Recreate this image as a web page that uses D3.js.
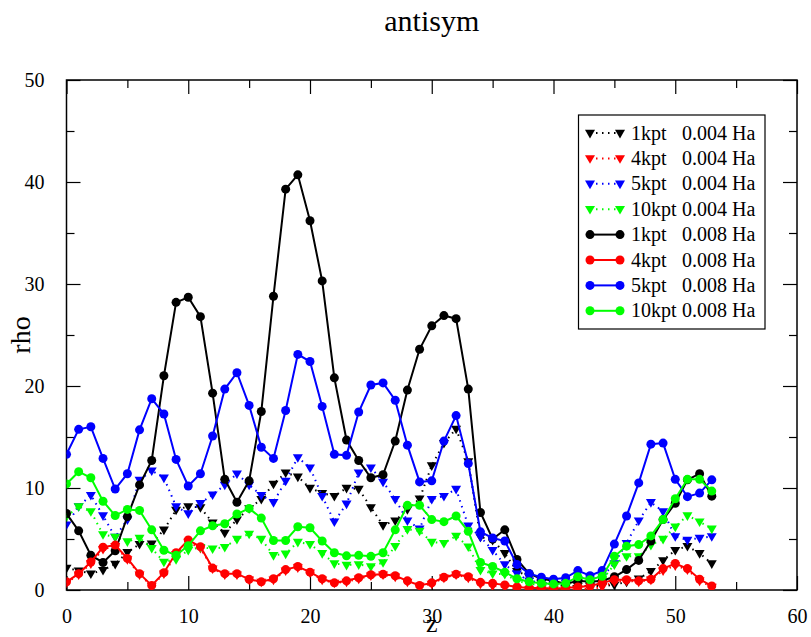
<!DOCTYPE html>
<html>
<head>
<meta charset="utf-8">
<script src="https://cdn.jsdelivr.net/npm/d3@7"></script>
<style>
  html, body { margin: 0; padding: 0; background: #fff; }
  svg { display: block; font-family: "Liberation Serif", "Times New Roman", serif; }
</style>
</head>
<body>
<svg id="chart" width="811" height="637"></svg>
<script>
// ---- data ----
const zValues = [0,1,2,3,4,5,6,7,8,9,10,11,12,13,14,15,16,17,18,19,20,21,22,23,24,25,26,27,28,29,30,31,32,33,34,35,36,37,38,39,40,41,42,43,44,45,46,47,48,49,50,51,52,53];

const rho1k_004 = [2.15,1.9,1.6,1.95,2.55,3.7,4.5,4.55,5.9,7.85,8.2,8.1,6.6,5.6,6.9,8.0,8.9,10.4,11.5,11.1,10.0,9.5,9.2,10.0,9.9,8.1,6.35,6.8,7.9,8.95,12.2,14.4,15.8,12.6,5.2,4.9,3.6,1.85,1.3,0.7,0.5,0.4,0.4,0.4,0.4,0.5,0.8,1.1,1.85,2.9,3.9,4.3,3.6,2.6];
const rho4k_004 = [0.7,1.5,2.6,4.0,4.3,3.0,1.5,0.4,1.6,3.5,4.7,4.1,2.1,1.5,1.5,1.0,0.8,1.0,1.9,2.2,1.7,1.0,0.7,0.8,1.1,1.4,1.5,1.3,0.8,0.4,0.6,1.2,1.5,1.2,0.6,0.4,0.3,0.1,0.05,0.05,0.05,0.05,0.1,0.1,0.3,0.8,0.9,0.8,1.0,1.9,2.4,2.0,0.9,0.3];
const rho5k_004 = [6.4,8.2,9.3,7.3,5.2,6.9,10.8,11.7,11.0,8.2,7.5,8.5,9.35,10.3,11.4,10.3,9.3,8.6,10.7,13.0,12.0,9.2,6.7,8.45,11.5,12.0,10.6,8.9,6.8,6.0,8.9,9.2,9.9,6.3,5.2,3.9,2.5,1.6,0.9,0.7,0.6,0.7,1.0,0.9,1.3,2.6,4.6,6.8,8.6,7.7,5.25,4.9,5.1,5.25];
const rho10k_004 = [7.2,8.2,7.7,5.45,5.2,4.75,5.1,4.1,2.75,3.0,3.9,4.2,4.05,4.2,5.0,5.5,5.0,3.4,3.55,4.7,4.5,3.6,2.6,2.45,2.5,2.3,2.7,4.3,5.95,5.8,4.7,4.6,5.3,4.25,1.95,1.6,1.55,0.9,0.6,0.5,0.4,0.45,0.8,0.6,1.0,2.5,3.3,3.3,4.4,5.0,6.2,7.3,6.7,6.0];
const rho1k_008 = [7.5,5.8,3.4,2.7,3.85,7.2,10.3,12.7,21.0,28.2,28.7,26.8,19.3,10.85,8.6,10.7,17.5,28.8,39.3,40.7,36.2,30.3,20.8,14.7,12.7,11.0,11.3,14.6,19.6,23.6,25.9,26.9,26.6,19.7,7.6,5.0,5.9,3.0,1.6,1.1,0.9,0.6,0.9,0.8,0.9,1.3,2.0,2.9,4.8,6.9,8.5,10.8,11.4,9.2];
const rho4k_008 = [0.8,1.6,2.75,4.2,4.4,3.1,1.6,0.45,1.7,3.65,4.9,4.25,2.15,1.6,1.6,1.05,0.8,1.1,2.0,2.3,1.75,1.1,0.7,0.9,1.2,1.5,1.55,1.4,0.9,0.45,0.7,1.25,1.55,1.3,0.75,0.65,0.5,0.3,0.2,0.2,0.15,0.2,0.3,0.4,0.7,1.0,1.0,0.9,1.05,2.1,2.6,2.1,1.05,0.4];
const rho5k_008 = [13.3,15.75,16.0,12.9,9.9,11.4,15.7,18.75,17.25,12.8,10.2,11.4,15.1,19.7,21.3,18.1,14.0,12.9,17.6,23.1,22.4,18.0,13.3,13.2,17.45,20.1,20.3,18.6,14.2,10.6,10.7,14.6,17.1,12.4,5.7,5.1,4.8,2.5,1.6,1.25,1.05,1.2,1.9,1.4,1.9,4.5,7.25,10.5,14.3,14.4,10.85,9.15,9.5,10.8];
const rho10k_008 = [10.4,11.6,11.0,8.7,7.3,7.9,7.8,5.9,3.9,3.4,4.35,5.8,6.3,6.5,7.45,8.0,7.05,4.85,4.85,6.2,6.1,4.8,3.65,3.35,3.4,3.3,3.65,5.9,8.3,8.3,6.9,6.7,7.25,5.75,2.7,2.3,1.75,1.1,0.8,0.65,0.6,0.65,1.3,1.0,1.35,3.3,4.3,4.45,5.3,6.9,8.95,10.85,10.85,9.7];

const seriesLabels = ["1kpt", "4kpt", "5kpt", "10kpt", "1kpt", "4kpt", "5kpt", "10kpt"];
const seriesSmear = ["0.004 Ha", "0.004 Ha", "0.004 Ha", "0.004 Ha", "0.008 Ha", "0.008 Ha", "0.008 Ha", "0.008 Ha"];
const seriesColors = ["#000000", "#ff0000", "#0000ff", "#00ff00", "#000000", "#ff0000", "#0000ff", "#00ff00"];
const seriesValues = [rho1k_004, rho4k_004, rho5k_004, rho10k_004, rho1k_008, rho4k_008, rho5k_008, rho10k_008];
const seriesKind = ["tri", "tri", "tri", "tri", "dot", "dot", "dot", "dot"];

const xTicks = [0, 10, 20, 30, 40, 50, 60];
const yTicks = [0, 10, 20, 30, 40, 50];
const xMinor = [5, 15, 25, 35, 45, 55];
const yMinor = [5, 15, 25, 35, 45];

const titleText = "antisym";
const xLabel = "z";
const yLabel = "rho";

// ---- layout ----
const svg = d3.select("#chart");
const L = 66.5, R = 797, T = 80, B = 590;
const x = d3.scaleLinear().domain([0, 60]).range([L, R]);
const y = d3.scaleLinear().domain([0, 50]).range([B, T]);

svg.append("defs").append("clipPath").attr("id", "clip")
  .append("rect").attr("x", L).attr("y", T).attr("width", R - L).attr("height", B - T);

// title
svg.append("text").attr("x", (L + R) / 2).attr("y", 31).attr("text-anchor", "middle")
  .attr("font-size", 30).text(titleText);

// axes with inward ticks
const axB = d3.axisBottom(x).tickValues(xTicks).tickSize(-14).tickPadding(19).tickFormat(d3.format("d"));
const axBm = d3.axisBottom(x).tickValues(xMinor).tickSize(-8).tickFormat("");
const axT = d3.axisTop(x).tickValues(xTicks).tickSize(-14).tickFormat("");
const axTm = d3.axisTop(x).tickValues(xMinor).tickSize(-8).tickFormat("");
const axL = d3.axisLeft(y).tickValues(yTicks).tickSize(-14).tickPadding(22).tickFormat(d3.format("d"));
const axLm = d3.axisLeft(y).tickValues(yMinor).tickSize(-8).tickFormat("");
const axR = d3.axisRight(y).tickValues(yTicks).tickSize(-14).tickFormat("");
const axRm = d3.axisRight(y).tickValues(yMinor).tickSize(-8).tickFormat("");

function styleAxis(g) {
  g.select(".domain").remove();
  g.selectAll(".tick line").attr("stroke", "#000").attr("stroke-width", 1.2);
  g.selectAll(".tick text").attr("fill", "#000").attr("font-size", 20)
    .attr("font-family", "'Liberation Serif', 'Times New Roman', serif");
}
[[axB, 0, B], [axBm, 0, B], [axT, 0, T], [axTm, 0, T]].forEach(([a, tx, ty]) => {
  svg.append("g").attr("transform", `translate(${tx},${ty})`).call(a).call(styleAxis);
});
[[axL, L, 0], [axLm, L, 0], [axR, R, 0], [axRm, R, 0]].forEach(([a, tx, ty]) => {
  svg.append("g").attr("transform", `translate(${tx},${ty})`).call(a).call(styleAxis);
});

// frame
svg.append("rect").attr("x", L).attr("y", T).attr("width", R - L).attr("height", B - T)
  .attr("fill", "none").attr("stroke", "#000").attr("stroke-width", 1.5);

// axis labels
svg.append("text").attr("x", (L + R) / 2).attr("y", 632).attr("text-anchor", "middle")
  .attr("font-size", 26).text(xLabel);
svg.append("text").attr("transform", `translate(30,${(T + B) / 2}) rotate(-90)`)
  .attr("text-anchor", "middle").attr("font-size", 28).text(yLabel);

// markers
const triPath = "M-5,-3.2L5,-3.2L0,5.4Z";
function drawMarker(g, kind, color, cx, cy) {
  if (kind === "tri") {
    g.append("path").attr("d", triPath).attr("transform", `translate(${cx},${cy})`).attr("fill", color);
  } else {
    g.append("circle").attr("cx", cx).attr("cy", cy).attr("r", 4.5).attr("fill", color);
  }
}

const plot = svg.append("g").attr("clip-path", "url(#clip)");
const line = d3.line().x((d, i) => x(zValues[i])).y(d => y(d));

seriesValues.forEach((vals, si) => {
  const g = plot.append("g");
  const color = seriesColors[si];
  const kind = seriesKind[si];
  g.append("path").datum(vals).attr("d", line).attr("fill", "none").attr("stroke", color)
    .attr("stroke-width", 2)
    .attr("stroke-dasharray", kind === "tri" ? "1.5,4.5" : null);
  vals.forEach((v, i) => drawMarker(g, kind, color, x(zValues[i]), y(v)));
});

// legend
const lg = svg.append("g");
lg.append("rect").attr("x", 578.5).attr("y", 115).attr("width", 186.5).attr("height", 214)
  .attr("fill", "#fff").attr("stroke", "#000").attr("stroke-width", 1.2);
seriesValues.forEach((vals, si) => {
  const cy = 133 + si * 25.4;
  const color = seriesColors[si];
  const kind = seriesKind[si];
  lg.append("line").attr("x1", 590).attr("x2", 620).attr("y1", cy).attr("y2", cy)
    .attr("stroke", color).attr("stroke-width", 2)
    .attr("stroke-dasharray", kind === "tri" ? "1.5,4.5" : null);
  drawMarker(lg, kind, color, 590, cy);
  drawMarker(lg, kind, color, 620, cy);
  lg.append("text").attr("x", 631).attr("y", cy + 6.5).attr("font-size", 20).text(seriesLabels[si]);
  lg.append("text").attr("x", 682).attr("y", cy + 6.5).attr("font-size", 20).text(seriesSmear[si]);
});
</script>
</body>
</html>
